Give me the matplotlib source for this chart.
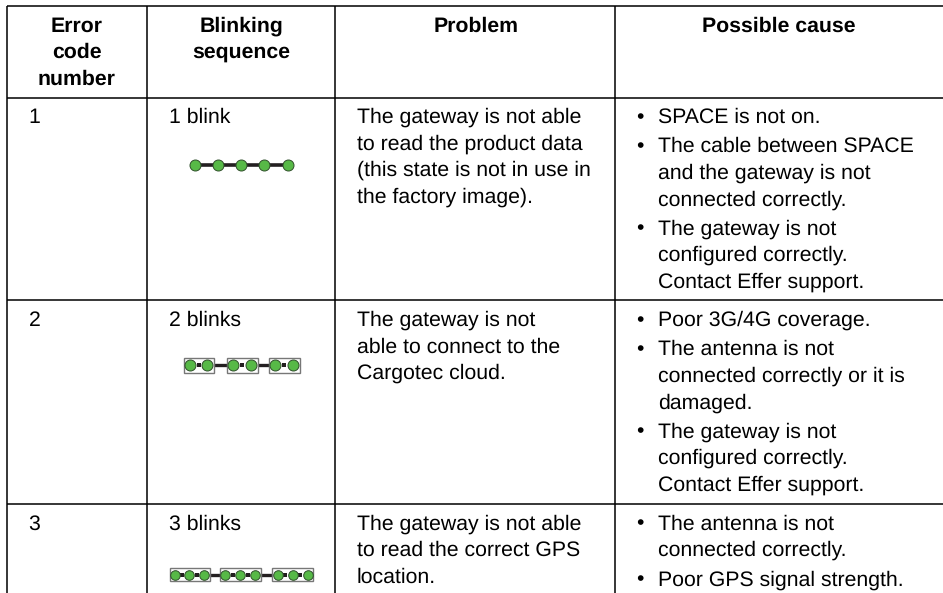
import matplotlib
matplotlib.use('Agg')
import matplotlib.pyplot as plt
from matplotlib.patches import Rectangle

plt.rcParams['font.family'] = ['Liberation Sans', 'DejaVu Sans']
plt.rcParams['text.hinting'] = 'no_hinting'

# table content
headers = [['Error', 'code', 'number'], ['Blinking', 'sequence'], ['Problem'], ['Possible cause']]
codes = ['1', '2', '3']
blink_labels = ['1 blink', '2 blinks', '3 blinks']
problems = [
    ['The gateway is not able', 'to read the product data', '(this state is not in use in', 'the factory image).'],
    ['The gateway is not', 'able to connect to the', 'Cargotec cloud.'],
    ['The gateway is not able', 'to read the correct GPS', 'location.'],
]
causes = [
    [['SPACE is not on.'],
     ['The cable between SPACE', 'and the gateway is not', 'connected correctly.'],
     ['The gateway is not', 'configured correctly.', 'Contact Effer support.']],
    [['Poor 3G/4G coverage.'],
     ['The antenna is not', 'connected correctly or it is', 'damaged.'],
     ['The gateway is not', 'configured correctly.', 'Contact Effer support.']],
    [['The antenna is not', 'connected correctly.'],
     ['Poor GPS signal strength.']],
]

# blink diagrams
dots_row1 = [195, 218, 241, 264, 287.5]
groups_row2 = [[190, 207.3], [233.3, 251], [275.3, 293]]
groups_row3 = [[174.5, 189, 204], [225, 240, 255], [277.5, 292.7, 307.5]]
boxes_row2 = [(183.5, 213.7), (226.7, 257.7), (268.5, 299.5)]
boxes_row3 = [(169.5, 210), (220, 260.5), (272.3, 313)]

# grid, in pixels
W, H = 943, 593
col_x = [6.5, 147, 335, 614.5]
row_y = [5.5, 97.5, 300, 503.5]
FS = 15.3
LINE = 26.5

fig = plt.figure(figsize=(W / 100, H / 100), dpi=100)
ax = fig.add_axes([0, 0, 1, 1])
ax.set_xlim(0, W)
ax.set_ylim(H, 0)
ax.axis('off')

for x in col_x:
    ax.plot([x, x], [row_y[0], H], color='black', lw=1.1, solid_capstyle='butt')
for y in row_y:
    ax.plot([col_x[0], W], [y, y], color='black', lw=1.1, solid_capstyle='butt')

# header
head_x = [77, 241, 476, 779]
for cx, lines in zip(head_x, headers):
    for i, s in enumerate(lines):
        ax.text(cx, 31.5 + i * LINE, s, ha='center', va='baseline', fontsize=FS, fontweight='bold', color='black')

# rows
baselines = [123, 326, 529.5]
for r in range(3):
    b = baselines[r]
    ax.text(28.5, b, codes[r], va='baseline', fontsize=FS)
    ax.text(169, b, blink_labels[r], va='baseline', fontsize=FS)
    for i, s in enumerate(problems[r]):
        ax.text(357, b + i * LINE, s, va='baseline', fontsize=FS)
    y = b
    for item in causes[r]:
        ax.text(640, y, '•', ha='center', va='baseline', fontsize=FS)
        for s in item:
            ax.text(657.7, y, s, va='baseline', fontsize=FS)
            y += LINE
        y += 2.7


def draw_dots(xs, y, r):
    ax.plot(xs, [y] * len(xs), ls='none', marker='o', ms=r * 2 * 0.72, mfc='#57b947', mec='#2f4f2a', mew=0.7, zorder=3)


def draw_groups(groups, boxes, y, r, box_h, link):
    # thick link between the boxes
    ax.plot([boxes[0][0], boxes[-1][1]], [y, y], color='#231f20', lw=2.4, zorder=2, solid_capstyle='butt')
    for x0, x1 in boxes:
        ax.add_patch(Rectangle((x0, y - box_h / 2), x1 - x0, box_h, fc='white', ec='#777777', lw=1.0, zorder=2.5))
    for grp in groups:
        mids = [(a + b) / 2 for a, b in zip(grp[:-1], grp[1:])]
        ax.plot(mids, [y] * len(mids), ls='none', marker='s', ms=link, color='#231f20', mew=0, zorder=2.7)
        draw_dots(grp, y, r)


ax.plot(dots_row1, [165] * len(dots_row1), color='#231f20', lw=2.6, zorder=2, solid_capstyle='butt')
draw_dots(dots_row1, 165, 5.5)
draw_groups(groups_row2, boxes_row2, 365, 5.5, 15, 3)
draw_groups(groups_row3, boxes_row3, 574.7, 4.8, 12.5, 3)

fig.savefig('out.png', dpi=100, facecolor='white')
